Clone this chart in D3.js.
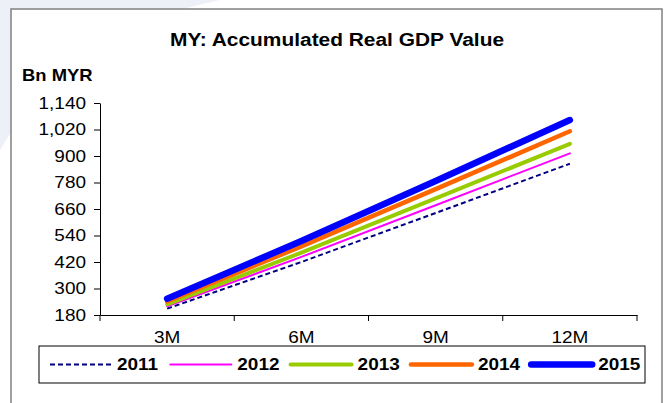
<!DOCTYPE html>
<html>
<head>
<meta charset="utf-8">
<script src="https://cdn.jsdelivr.net/npm/d3@7"></script>
<style>
  body { margin: 0; background: #fff; }
  text { font-family: "Liberation Sans", Arial, sans-serif; fill: #000; }
</style>
</head>
<body>
<svg id="chart" width="667" height="403"></svg>
<script>
var periods = ["3M", "6M", "9M", "12M"];
var years = ["2011", "2012", "2013", "2014", "2015"];
var gdp2011 = [209, 420, 642, 865];
var gdp2012 = [219, 443, 677, 912];
var gdp2013 = [228, 462, 708, 955];
var gdp2014 = [241, 491, 750, 1012];
var gdp2015 = [254, 515, 787, 1063];
var yTicks = [180, 300, 420, 540, 660, 780, 900, 1020, 1140];

var series = [gdp2011, gdp2012, gdp2013, gdp2014, gdp2015];
var colors = ["#000080", "#ff00ff", "#99cc00", "#ff6600", "#0000ff"];
var widths = [2, 2, 4, 4.5, 6.5];
var stretch = 1.15;

var svg = d3.select("#chart");

// faint background swoosh
svg.append("path")
  .attr("d", "M0,0 L220,0 Q70,30 0,150 Z")
  .attr("fill", "#eef0f8");

// frame
svg.append("rect")
  .attr("x", 11).attr("y", 9)
  .attr("width", 651).attr("height", 405)
  .attr("fill", "#fff")
  .attr("stroke", "#808080")
  .attr("stroke-width", 1.5);

svg.append("text")
  .attr("transform", "translate(337,46) scale(1.1,1)")
  .attr("text-anchor", "middle")
  .style("font-size", "19px")
  .style("font-weight", "bold")
  .text("MY: Accumulated Real GDP Value");

svg.append("text")
  .attr("transform", "translate(22,81) scale(" + stretch + ",1)")
  .style("font-size", "16px")
  .style("font-weight", "bold")
  .text("Bn MYR");

var x = d3.scaleBand().domain(periods).range([100, 637]).padding(0);
var y = d3.scaleLinear().domain([180, 1140]).range([315, 103]);

// y axis
var yAxis = d3.axisLeft(y).tickValues(yTicks).tickFormat(d3.format(",")).tickSize(6).tickSizeOuter(0);
var gy = svg.append("g").attr("transform", "translate(100,0)").call(yAxis);
gy.select(".domain").attr("stroke", "#000");
gy.selectAll(".tick line").attr("stroke", "#000");
gy.selectAll(".tick text")
  .attr("x", 0)
  .attr("transform", "translate(-14,0) scale(" + stretch + ",1)")
  .style("font-size", "16.5px")
  .style("font-family", "Liberation Sans, Arial, sans-serif")
  .attr("fill", "#000");

// x axis
var xAxis = d3.axisBottom(x).tickSize(0).tickPadding(16).tickSizeOuter(0);
var gx = svg.append("g").attr("transform", "translate(0,315)").call(xAxis);
gx.select(".domain").attr("stroke", "#000");
gx.selectAll(".tick text")
  .attr("transform", "scale(" + stretch + ",1)")
  .style("font-size", "16.5px")
  .style("font-family", "Liberation Sans, Arial, sans-serif")
  .attr("fill", "#000");

// category boundary ticks
var edges = periods.map(function(p) { return x(p); }).concat([x.range()[1]]);
svg.append("g").selectAll("line").data(edges).enter()
  .append("line")
  .attr("x1", function(d) { return d; })
  .attr("x2", function(d) { return d; })
  .attr("y1", 315).attr("y2", 321)
  .attr("stroke", "#000");

var line = d3.line()
  .x(function(d, i) { return x(periods[i]) + x.bandwidth() / 2; })
  .y(function(d) { return y(d); });

svg.append("g").selectAll("path").data(series).enter()
  .append("path")
  .attr("d", line)
  .attr("fill", "none")
  .attr("stroke", function(d, i) { return colors[i]; })
  .attr("stroke-width", function(d, i) { return widths[i]; })
  .attr("stroke-linecap", function(d, i) { return i === 0 ? "butt" : "round"; })
  .attr("stroke-dasharray", function(d, i) { return i === 0 ? "5,3" : null; });

// legend
var legend = svg.append("g");
legend.append("rect")
  .attr("x", 39).attr("y", 346)
  .attr("width", 606).attr("height", 37)
  .attr("fill", "#fff")
  .attr("stroke", "#000");

var items = legend.selectAll("g.item").data(years).enter()
  .append("g")
  .attr("class", "item")
  .attr("transform", function(d, i) { return "translate(" + (50 + i * 120.3) + ",364.5)"; });

items.append("line")
  .attr("x1", 0).attr("x2", 61)
  .attr("stroke", function(d, i) { return colors[i]; })
  .attr("stroke-width", function(d, i) { return widths[i]; })
  .attr("stroke-linecap", function(d, i) { return i === 0 ? "butt" : "round"; })
  .attr("stroke-dasharray", function(d, i) { return i === 0 ? "5,3" : null; });

items.append("text")
  .attr("transform", "translate(67,0) scale(" + stretch + ",1)")
  .attr("dy", "0.35em")
  .style("font-size", "16.5px")
  .style("font-weight", "bold")
  .text(function(d) { return d; });
</script>
</body>
</html>
